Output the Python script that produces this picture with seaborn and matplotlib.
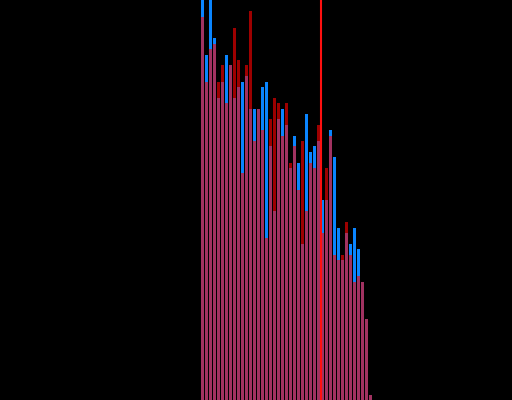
import pandas as pd
import matplotlib
matplotlib.use("Agg")
import matplotlib.pyplot as plt
import seaborn as sns

# ------------------------------
# 1. Data (bin counts)
# ------------------------------
bin_index = list(range(43))

blue_counts = [420, 345, 410, 362, 302, 318, 345, 335, 302, 313,
               318, 324, 291, 291, 291, 313, 318, 254, 189, 281,
               291, 275, 232, 264, 237, 156, 286, 248, 254, 259,
               200, 200, 270, 243, 172, 140, 167, 156, 172, 151,
               118, 81, 5]

red_counts = [383, 318, 351, 356, 318, 335, 297, 335, 372, 340,
              227, 335, 389, 259, 291, 270, 162, 281, 302, 297,
              264, 297, 237, 254, 210, 259, 189, 237, 232, 275,
              167, 232, 264, 145, 140, 145, 178, 145, 118, 124,
              118, 81, 5]

marker_x = 30.0

df = pd.DataFrame({"bin": bin_index, "blue": blue_counts, "red": red_counts})
df["center"] = df["bin"] + 0.5

# ------------------------------
# 2. Plot
# ------------------------------
fig = plt.figure(figsize=(5.12, 4.0), dpi=100, facecolor="black")
ax = fig.add_axes([0, 0, 1, 1])
ax.set_facecolor("black")

sns.histplot(data=df, x="center", weights="blue", binwidth=1,
             binrange=(0, len(bin_index)), shrink=0.75,
             color="#0a85ff", alpha=1.0, linewidth=0, antialiased=False, ax=ax)
sns.histplot(data=df, x="center", weights="red", binwidth=1,
             binrange=(0, len(bin_index)), shrink=0.75,
             color="#ff0000", alpha=0.62, linewidth=0, antialiased=False, ax=ax)

ax.axvline(marker_x, color="#ff1010", lw=1.5)

ax.set_xlim(-50.125, 77.875)
ax.set_ylim(0, 400)
ax.axis("off")

fig.savefig("out.png", dpi=100, facecolor="black")
